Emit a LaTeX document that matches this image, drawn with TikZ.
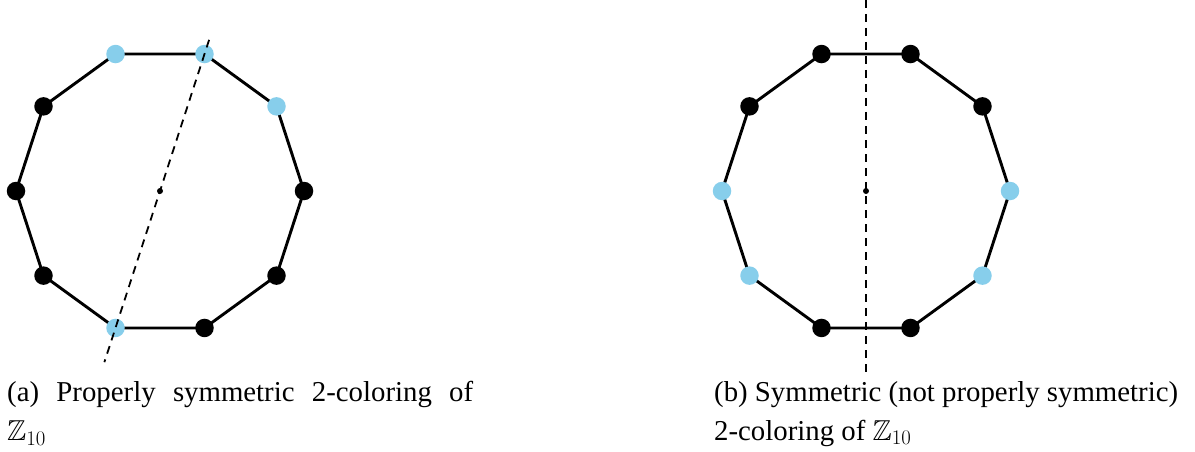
\documentclass[tikz,border=0pt]{standalone}
\usepackage{fontspec}
\setmainfont{Liberation Serif}
\usepackage{amssymb}
\usetikzlibrary{calc}
\definecolor{vblue}{RGB}{135,206,235}
\begin{document}
\begin{tikzpicture}[x=1pt,y=-1pt,
  edge/.style={line width=2.9pt,line join=round},
  vtx/.style={circle,inner sep=0pt,minimum size=18.5pt},
  bv/.style={vtx,fill=black},
  lv/.style={vtx,fill=vblue},
  axisline/.style={line width=1.8pt,dash pattern=on 8pt off 6pt},
  cdot/.style={circle,fill=black,inner sep=0pt,minimum size=6pt},
  captext/.style={inner sep=0pt,text width=466pt,align=justify,
    font=\fontsize{28.8pt}{39pt}\selectfont}]
\useasboundingbox (0,0) rectangle (1195,452);

% centres of the two decagons
\coordinate (ca) at (160,191);
\coordinate (cb) at (866,191);

% vertex positions
\foreach \k in {0,...,9}{
  \coordinate (pa\k) at ($(ca)+(\k*36:144)$);
  \coordinate (pb\k) at ($(cb)+(\k*36:144)$);
}

% decagon edges
\draw[edge] (pa0) -- (pa1) -- (pa2) -- (pa3) -- (pa4) -- (pa5) -- (pa6) -- (pa7) -- (pa8) -- (pa9) -- cycle;
\draw[edge] (pb0) -- (pb1) -- (pb2) -- (pb3) -- (pb4) -- (pb5) -- (pb6) -- (pb7) -- (pb8) -- (pb9) -- cycle;

% coloured vertices
\foreach \k/\s in {0/bv,1/bv,2/bv,3/lv,4/bv,5/bv,6/bv,7/lv,8/lv,9/lv}
  \node[\s] (va\k) at (pa\k) {};
\foreach \k/\s in {0/lv,1/lv,2/bv,3/bv,4/lv,5/lv,6/bv,7/bv,8/bv,9/bv}
  \node[\s] (vb\k) at (pb\k) {};

% symmetry axes
\coordinate (ta) at ($(ca)!1.104!(va8.center)$);
\coordinate (ba) at ($(ca)!1.25!(va3.center)$);
\draw[axisline] (ta) -- (ba);
\coordinate (tb) at (866,0);
\coordinate (bb) at (866,375);
\draw[axisline] (tb) -- (bb);

% centre points
\node[cdot] (oa) at (ca) {};
\node[cdot] (ob) at (cb) {};

% captions
\node[captext,anchor=north west] (capa) at (7,381)
  {(a) Properly symmetric 2-coloring of\linebreak $\mathbb{Z}_{10}$};
\node[captext,anchor=north west] (capb) at (714,381)
  {(b) Symmetric (not properly symmetric)\\ 2-coloring of $\mathbb{Z}_{10}$};
\end{tikzpicture}
\end{document}
